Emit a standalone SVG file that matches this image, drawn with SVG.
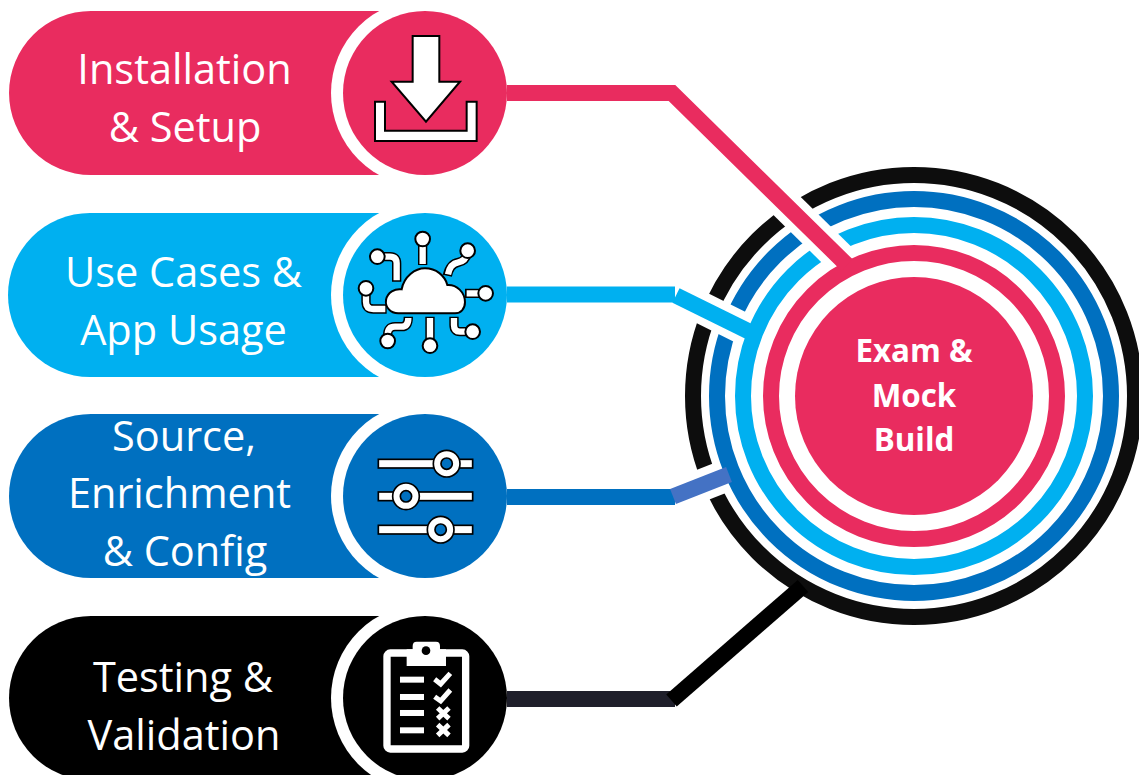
<svg xmlns="http://www.w3.org/2000/svg" width="1139" height="775" viewBox="0 0 1139 775">
<style>
.lbl{font-family:"Open Sans","Noto Sans","Liberation Sans",sans-serif;font-size:41.500px;fill:#fff;text-anchor:middle}
.hub{font-family:"Open Sans","Noto Sans","Liberation Sans",sans-serif;font-size:31.400px;font-weight:700;fill:#fff;text-anchor:middle}
.halo{fill:#fff}
.ol{fill:none;stroke:#000;stroke-width:28;stroke-linejoin:round}
.in{fill:none;stroke:#fff;stroke-width:19;stroke-linejoin:round}
.cw{fill:#fff;stroke:#000;stroke-width:6}
.cut{fill:none;stroke:#000;stroke-width:32}
.ring{fill:none;stroke-width:16}
.conn{fill:none;stroke-width:16}
.pk{stroke:#E92C5F}.cy{stroke:#00B0F0}.bl{stroke:#0070C0}
</style>
<defs>
<mask id="m-black" maskUnits="userSpaceOnUse" x="0" y="0" width="1139" height="775"><rect width="1139" height="775" fill="#fff"/><path class="cut" d="M672 93L845 263"/><path class="cut" d="M676 295L752 333"/><path class="cut" d="M673 496.500L729 474.500"/></mask>
<mask id="m-blue" maskUnits="userSpaceOnUse" x="0" y="0" width="1139" height="775"><rect width="1139" height="775" fill="#fff"/><path class="cut" d="M672 93L845 263"/><path class="cut" d="M676 295L752 333"/></mask>
<mask id="m-cyan" maskUnits="userSpaceOnUse" x="0" y="0" width="1139" height="775"><rect width="1139" height="775" fill="#fff"/><path class="cut" d="M672 93L845 263"/></mask>
</defs>
<g id="hub">
<circle class="ring" cx="914" cy="396" r="221" stroke="#0D0D0D" mask="url(#m-black)"/>
<circle class="ring bl" cx="914" cy="396" r="197" mask="url(#m-blue)"/>
<circle class="ring cy" cx="914" cy="396" r="171" mask="url(#m-cyan)"/>
<circle class="ring pk" cx="914" cy="396" r="143"/>
<circle cx="914" cy="396" r="119" fill="#E92C5F"/>
<text class="hub" x="914" y="362">Exam &amp;</text>
<text class="hub" x="914" y="407">Mock</text>
<text class="hub" x="914" y="451">Build</text>
</g>
<g id="node-install">
<path d="M91 11H400V175H91A82 82 0 0 1 91 11Z" fill="#E92C5F"/>
<circle class="halo" cx="425" cy="93" r="94"/>
<circle cx="425" cy="93" r="82" fill="#E92C5F"/>
<text class="lbl" x="184.500" y="84">Installation</text>
<text class="lbl" x="185" y="142">&amp; Setup</text>
<g transform="translate(330 0) scale(.3333)">
<path d="M248 108H328V245H390L288 365L185 245H248Z" fill="#fff" stroke="#000" stroke-width="6"/>
<path d="M135 305H165V392H410V305H440V423H135Z" fill="#fff" stroke="#000" stroke-width="6"/>
</g>
</g>
<g id="node-usecases">
<path d="M90 213H400V377H90A82 82 0 0 1 90 213Z" fill="#00B0F0"/>
<circle class="halo" cx="425" cy="295" r="94"/>
<circle cx="425" cy="295" r="82" fill="#00B0F0"/>
<text class="lbl" x="183.500" y="287">Use Cases &amp;</text>
<text class="lbl" x="183.500" y="345">App Usage</text>
<g transform="translate(330 205) scale(.3333)">
<path class="ol" d="M278 102V180M413 137Q410 168 385 172Q360 176 352 212M467 265H405M142 155H180Q200 155 200 175V230M108 250V290Q108 312 130 312H170M173 408V390Q173 365 195 365H215Q235 365 235 335M300 422V335M428 380H390Q372 380 372 360V335"/>
<path class="in" d="M278 102V177M413 137Q410 168 385 172Q360 176 354 208M467 265H410M142 155H180Q200 155 200 175V226M108 250V290Q108 312 130 312H166M173 408V390Q173 365 195 365H215Q235 365 235 339M300 422V339M428 380H390Q372 380 372 360V339"/>
<circle class="cw" cx="278" cy="102" r="22"/><circle class="cw" cx="413" cy="137" r="22"/><circle class="cw" cx="467" cy="265" r="22"/><circle class="cw" cx="142" cy="155" r="22"/><circle class="cw" cx="108" cy="250" r="22"/><circle class="cw" cx="173" cy="408" r="22"/><circle class="cw" cx="300" cy="422" r="22"/><circle class="cw" cx="428" cy="380" r="22"/>
<path d="M205 325C180 325 165 305 168 285C172 262 195 250 215 253C222 215 255 190 285 190C318 190 345 212 352 240C380 238 405 262 405 292C405 312 392 325 375 325Z" fill="#fff" stroke="#000" stroke-width="6"/>
</g>
</g>
<g id="node-source">
<path d="M91 414H400V578H91A82 82 0 0 1 91 414Z" fill="#0070C0"/>
<circle class="halo" cx="425" cy="496" r="94"/>
<circle cx="425" cy="496" r="82" fill="#0070C0"/>
<text class="lbl" x="184" y="451">Source,</text>
<text class="lbl" x="179.500" y="508">Enrichment</text>
<text class="lbl" x="185" y="566">&amp; Config</text>
<g transform="translate(330 405) scale(.3333)">
<g fill="#fff" stroke="#000" stroke-width="5">
<rect x="145" y="163" width="283" height="26"/><rect x="145" y="261" width="283" height="26"/><rect x="145" y="361" width="283" height="26"/>
<circle cx="350" cy="176" r="40"/><circle cx="228" cy="274" r="40"/><circle cx="332" cy="374" r="40"/>
</g>
<g fill="#0070C0" stroke="#000" stroke-width="5">
<circle cx="350" cy="176" r="17"/><circle cx="228" cy="274" r="17"/><circle cx="332" cy="374" r="17"/>
</g>
</g>
</g>
<g id="node-testing">
<path d="M91 616H400V780H91A82 82 0 0 1 91 616Z" fill="#000"/>
<circle class="halo" cx="425" cy="698" r="94"/>
<circle cx="425" cy="698" r="82" fill="#000"/>
<text class="lbl" x="183" y="692">Testing &amp;</text>
<text class="lbl" x="184" y="750">Validation</text>
<g transform="translate(330 610) scale(.3333)">
<rect x="171" y="129" width="236" height="288" rx="10" fill="none" stroke="#fff" stroke-width="22"/>
<path d="M230 118H248V108Q248 95 260 95H318Q330 95 330 108V118H348V168H230Z" fill="#fff"/>
<circle cx="288" cy="122" r="13" fill="#000"/>
<g fill="#fff"><rect x="210" y="200" width="72" height="18"/><rect x="210" y="252" width="72" height="18"/><rect x="210" y="300" width="72" height="18"/><rect x="210" y="352" width="72" height="18"/></g>
<path d="M314 208L332 222L361 190M314 260L332 273L361 240M323 294L357 326M357 294L323 326M323 344L357 376M357 344L323 376" fill="none" stroke="#fff" stroke-width="15"/>
</g>
</g>
<g id="connectors">
<path class="conn pk" d="M507 93H672L847 265"/>
<path class="conn cy" d="M507 294.500H675"/>
<path class="conn cy" d="M676 295.500L752 333"/>
<path class="conn bl" d="M507 497H675"/>
<path class="conn" stroke="#4472C4" d="M673 496.500L729 474.500"/>
<path class="conn" stroke="#1F1F2B" d="M507 699H675"/>
<path class="conn" stroke="#000" d="M671.500 700.500L803 586"/>
</g>
</svg>
